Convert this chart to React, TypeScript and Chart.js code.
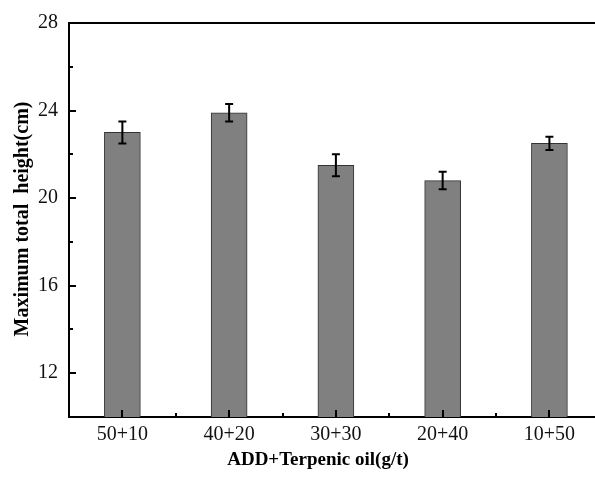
import React, { useEffect, useRef } from 'react';
import { Chart, registerables } from 'chart.js';

Chart.register(...registerables);

const categories = ['50+10', '40+20', '30+30', '20+40', '10+50'];
const heights = [23.0, 23.9, 21.5, 20.8, 22.5];
const errors = [0.5, 0.4, 0.5, 0.4, 0.3];
const yMajorTicks = [12, 16, 20, 24, 28];
const yMinorTicks = [14, 18, 22, 26];
const xMinorTicks = [0.5, 1.5, 2.5, 3.5];
const yTitle = 'Maximum total  height(cm)';
const xTitle = 'ADD+Terpenic oil(g/t)';

const FONT = '"Liberation Serif", "Times New Roman", serif';

const decor = {
  id: 'decor',
  afterDatasetsDraw(chart: any) {
    const ctx = chart.ctx;
    const xs = chart.scales.x;
    const ys = chart.scales.y;
    ctx.save();
    ctx.strokeStyle = '#000';
    ctx.lineWidth = 2;
    heights.forEach((h, i) => {
      const px = xs.getPixelForValue(i);
      const top = ys.getPixelForValue(h + errors[i]);
      const bot = ys.getPixelForValue(h - errors[i]);
      ctx.beginPath();
      ctx.moveTo(px, top);
      ctx.lineTo(px, bot);
      ctx.moveTo(px - 4, top);
      ctx.lineTo(px + 4, top);
      ctx.moveTo(px - 4, bot);
      ctx.lineTo(px + 4, bot);
      ctx.stroke();
    });
    ctx.restore();
  },
  afterDraw(chart: any) {
    const ctx = chart.ctx;
    const xs = chart.scales.x;
    const ys = chart.scales.y;
    const a = chart.chartArea;
    ctx.save();
    ctx.strokeStyle = '#000';
    ctx.lineWidth = 2;
    ctx.beginPath();
    ctx.moveTo(a.left - 1, a.top);
    ctx.lineTo(chart.width, a.top);
    ctx.stroke();
    ctx.beginPath();
    yMajorTicks.forEach((v) => {
      const py = Math.round(ys.getPixelForValue(v));
      ctx.moveTo(a.left, py);
      ctx.lineTo(a.left + 7, py);
    });
    yMinorTicks.forEach((v) => {
      const py = Math.round(ys.getPixelForValue(v));
      ctx.moveTo(a.left, py);
      ctx.lineTo(a.left + 4, py);
    });
    categories.forEach((_, i) => {
      const px = Math.round(xs.getPixelForValue(i));
      ctx.moveTo(px, a.bottom);
      ctx.lineTo(px, a.bottom - 7);
    });
    xMinorTicks.forEach((v) => {
      const px = Math.round(xs.getPixelForValue(v));
      ctx.moveTo(px, a.bottom);
      ctx.lineTo(px, a.bottom - 4);
    });
    ctx.stroke();
    ctx.fillStyle = '#000';
    ctx.font = 'bold 19px ' + FONT;
    ctx.textAlign = 'center';
    ctx.textBaseline = 'alphabetic';
    ctx.fillText(xTitle, (a.left + a.right) / 2 - 14, 465);
    ctx.save();
    ctx.font = 'bold 20px ' + FONT;
    ctx.translate(a.left - 41, (a.top + a.bottom) / 2 - 1);
    ctx.rotate(-Math.PI / 2);
    ctx.fillText(yTitle, 0, 0);
    ctx.restore();
    ctx.restore();
  },
};

export default function App() {
  const ref = useRef<HTMLCanvasElement | null>(null);
  useEffect(() => {
    document.body.style.margin = '0';
    const canvas = ref.current;
    if (!canvas) return;
    const chart = new Chart(canvas, {
      type: 'bar',
      data: {
        datasets: [
          {
            data: heights.map((h, i) => ({ x: i, y: h })),
            backgroundColor: '#808080',
            borderColor: '#333333',
            borderWidth: 1,
            borderSkipped: 'bottom',
            barThickness: 36,
          },
        ],
      },
      options: {
        animation: false,
        responsive: false,
        devicePixelRatio: 1,
        layout: { padding: { top: 20, right: 0, left: 0, bottom: 0 } },
        plugins: { legend: { display: false }, tooltip: { enabled: false } },
        scales: {
          x: {
            type: 'linear',
            offset: false,
            min: -0.5,
            max: 4.427,
            grid: { display: false, drawTicks: false },
            border: { display: true, width: 2, color: '#000' },
            afterBuildTicks: (scale: any) => {
              scale.ticks = categories.map((_, i) => ({ value: i }));
            },
            afterFit: (scale: any) => {
              scale.height = 63;
              scale.paddingRight = 0;
              scale.paddingLeft = 0;
            },
            ticks: {
              padding: 6,
              color: '#111',
              font: { family: FONT, size: 20 },
              callback: (v: any) => categories[Math.round(Number(v))] ?? '',
            },
          },
          y: {
            min: 10,
            max: 28,
            grid: { display: false, drawTicks: false },
            border: { display: true, width: 2, color: '#000' },
            afterBuildTicks: (scale: any) => {
              scale.ticks = yMajorTicks.map((v) => ({ value: v }));
            },
            afterFit: (scale: any) => {
              scale.width = 69;
            },
            ticks: {
              padding: 11,
              color: '#111',
              font: { family: FONT, size: 20 },
            },
          },
        },
      },
      plugins: [decor],
    });
    return () => chart.destroy();
  }, []);
  return <canvas ref={ref} width={595} height={480} style={{ display: 'block' }} />;
}
